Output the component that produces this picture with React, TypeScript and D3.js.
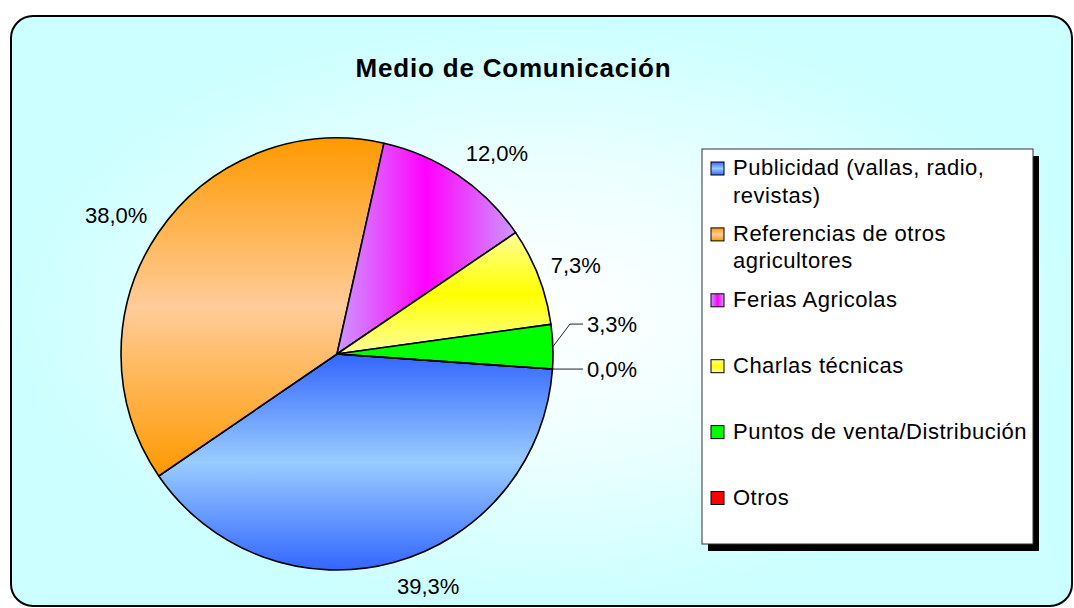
import React from "react";
import * as d3 from "d3";

// ---- Data ----
const title = "Medio de Comunicación";
const categories = [
  "Publicidad (vallas, radio, revistas)",
  "Referencias de otros agricultores",
  "Ferias Agricolas",
  "Charlas técnicas",
  "Puntos de venta/Distribución",
  "Otros",
];
const percents = [39.3, 38.0, 12.0, 7.3, 3.3, 0.0];
const gradientStops = [
  ["#3366FF", "#99CCFF", "#3366FF"],
  ["#FF9900", "#FFCC99", "#FF9900"],
  ["#CC99FF", "#FF00FF", "#CC99FF"],
  ["#FFFF99", "#FFFF00", "#FFFF99"],
  ["#00FF00", "#00FF00", "#00FF00"],
  ["#FF0000", "#FF0000", "#FF0000"],
];
const gradientHorizontal = [false, false, true, false, false, false];

// ---- Layout ----
const W = 1074;
const H = 608;
const FONT = '"Liberation Sans", Arial, sans-serif';
const cx = 337;
const cy = 354;
const R = 216;
const startDeg = 94;
const labelSize = 22;
const legendSize = 22;

let ctx: CanvasRenderingContext2D | null = null;
function measure(text: string, size: number, bold = false, spacing = 0): number {
  if (!ctx) {
    const c = document.createElement("canvas");
    ctx = c.getContext("2d");
  }
  if (!ctx) return text.length * size * 0.55;
  ctx.font = `${bold ? "bold " : ""}${size}px "Liberation Sans", Arial, sans-serif`;
  return ctx.measureText(text).width + spacing * text.length;
}

function wrap(text: string, maxW: number, size: number, spacing: number): string[] {
  const words = text.split(" ");
  const lines: string[] = [];
  let cur = "";
  for (const w of words) {
    const t = cur ? cur + " " + w : w;
    if (cur && measure(t, size, false, spacing) > maxW) {
      lines.push(cur);
      cur = w;
    } else cur = t;
  }
  if (cur) lines.push(cur);
  return lines;
}

const fmt = (v: number) => v.toFixed(1).replace(".", ",") + "%";
const clamp = (v: number) => Math.max(-1, Math.min(1, v));

export default function App() {
  const a0 = (startDeg * Math.PI) / 180;
  const pie = d3
    .pie<number>()
    .sort(null)
    .value((d) => d)
    .startAngle(a0)
    .endAngle(a0 + 2 * Math.PI);
  const arcs = pie(percents);
  const arcGen = d3.arc<d3.PieArcDatum<number>>().innerRadius(0).outerRadius(R);

  const pt = (ang: number, r: number): [number, number] => [
    cx + r * Math.sin(ang),
    cy - r * Math.cos(ang),
  ];

  // Labels
  type Lab = { text: string; x: number; y: number; anchor: string; leader?: [number, number][] };
  const labels: Lab[] = [];
  const small: { i: number; ax: number; ay: number; y: number }[] = [];
  arcs.forEach((a, i) => {
    const mid = (a.startAngle + a.endAngle) / 2;
    const text = fmt(percents[i]);
    if (percents[i] >= 5) {
      const [ax, ay] = pt(mid, R + 13);
      const hw = measure(text, labelSize) / 2;
      const hh = labelSize / 2;
      labels.push({
        text,
        x: ax + hw * clamp(Math.sin(mid) / 0.25),
        y: ay - hh * clamp(Math.cos(mid) / 0.55),
        anchor: "middle",
      });
    } else {
      const [ax, ay] = pt(mid, R);
      small.push({ i, ax, ay, y: ay });
    }
  });
  small.sort((p, q) => p.ay - q.ay);
  for (let k = small.length - 2; k >= 0; k--) {
    small[k].y = Math.min(small[k].ay, small[k + 1].y - 45);
  }
  small.forEach((s) => {
    labels.push({
      text: fmt(percents[s.i]),
      x: cx + R + 34,
      y: s.y,
      anchor: "start",
      leader: [
        [s.ax, s.ay],
        [cx + R + 17, s.y],
        [cx + R + 30, s.y],
      ],
    });
  });

  // Legend
  const lgX = 702;
  const lgY = 149;
  const lgW = 331;
  const lgH = 395;
  const lgSpacing = 0.5;
  const itemStep = 65.9;
  const lineStep = 27.5;
  const firstBase = 175;

  const line = d3.line();

  return (
    <svg
      width={W}
      height={H}
      style={{ position: "absolute", left: 0, top: 0, display: "block" }}
      fontFamily={FONT}
    >
      <defs>
        <radialGradient id="bg" cx="0.5" cy="0.5" r="0.5">
          <stop offset="0" stopColor="#FFFFFF" />
          <stop offset="0.45" stopColor="#EEFFFF" />
          <stop offset="1" stopColor="#CCFFFF" />
        </radialGradient>
        {gradientStops.map((s, i) => (
          <linearGradient
            key={i}
            id={`g${i}`}
            x1="0"
            y1="0"
            x2={gradientHorizontal[i] ? "1" : "0"}
            y2={gradientHorizontal[i] ? "0" : "1"}
          >
            <stop offset="0" stopColor={s[0]} />
            <stop offset="0.5" stopColor={s[1]} />
            <stop offset="1" stopColor={s[2]} />
          </linearGradient>
        ))}
      </defs>

      <rect x={11} y={16} width={1061} height={590} rx={22} ry={22} fill="url(#bg)" stroke="#000" strokeWidth={2} />

      <text
        x={513.5}
        y={77}
        textAnchor="middle"
        fontSize={26}
        fontWeight="bold"
        letterSpacing={0.8}
        fill="#000"
      >
        {title}
      </text>

      <g>
        {arcs.map((a, i) => (
          <path
            key={i}
            d={arcGen(a) || ""}
            transform={`translate(${cx},${cy})`}
            fill={`url(#g${i})`}
            stroke="#000"
            strokeWidth={1.6}
            strokeLinejoin="round"
          />
        ))}
      </g>

      <g>
        {labels.map((l, i) => (
          <g key={i}>
            {l.leader && (
              <path d={line(l.leader) || ""} fill="none" stroke="#222" strokeWidth={1} />
            )}
            <text
              x={l.x}
              y={l.y}
              dy="0.36em"
              textAnchor={l.anchor}
              fontSize={labelSize}
              fill="#000"
            >
              {l.text}
            </text>
          </g>
        ))}
      </g>

      <g>
        <rect x={lgX + 6} y={lgY + 7} width={lgW} height={lgH} fill="#000" />
        <rect x={lgX} y={lgY} width={lgW} height={lgH} fill="#fff" stroke="#333" strokeWidth={1} />
        {categories.map((c, i) => {
          const base = firstBase + i * itemStep;
          const lines = wrap(c, 300, legendSize, lgSpacing);
          return (
            <g key={i}>
              <rect
                x={lgX + 9}
                y={base - 13}
                width={13}
                height={13}
                fill={`url(#g${i})`}
                stroke="#000"
                strokeWidth={1}
              />
              <text x={lgX + 31} y={base} fontSize={legendSize} letterSpacing={lgSpacing} fill="#000">
                {lines.map((t, k) => (
                  <tspan key={k} x={lgX + 31} y={base + k * lineStep}>
                    {t}
                  </tspan>
                ))}
              </text>
            </g>
          );
        })}
      </g>
    </svg>
  );
}
